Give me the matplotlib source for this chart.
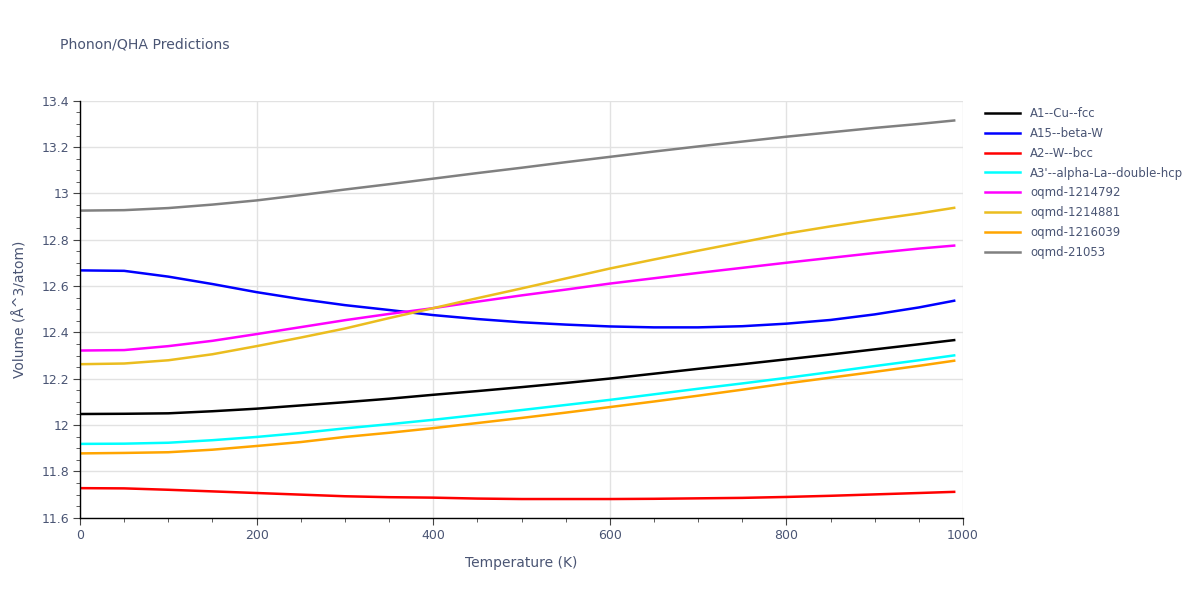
import matplotlib
matplotlib.use("Agg")
import matplotlib.pyplot as plt
from matplotlib.ticker import MultipleLocator, FormatStrFormatter

# temperatures (K) where the curves were read
temps = [0, 50, 100, 150, 200, 250, 300, 350, 400, 450, 500,
         550, 600, 650, 700, 750, 800, 850, 900, 950, 990]

a1_cu_fcc = [12.048, 12.049, 12.051, 12.060, 12.071, 12.085, 12.099, 12.114, 12.131, 12.147, 12.164,
             12.182, 12.201, 12.222, 12.243, 12.263, 12.284, 12.305, 12.327, 12.349, 12.367]
a15_beta_w = [12.668, 12.666, 12.641, 12.609, 12.574, 12.544, 12.518, 12.497, 12.475, 12.458, 12.444,
              12.434, 12.426, 12.422, 12.422, 12.427, 12.438, 12.454, 12.478, 12.508, 12.537]
a2_w_bcc = [11.728, 11.727, 11.721, 11.714, 11.707, 11.700, 11.693, 11.689, 11.687, 11.683, 11.681,
            11.681, 11.681, 11.682, 11.684, 11.686, 11.690, 11.695, 11.701, 11.707, 11.712]
a3_alpha_la = [11.919, 11.920, 11.924, 11.935, 11.949, 11.966, 11.986, 12.004, 12.023, 12.044, 12.065,
               12.087, 12.109, 12.133, 12.157, 12.180, 12.204, 12.229, 12.255, 12.280, 12.301]
oqmd_1214792 = [12.322, 12.324, 12.341, 12.364, 12.393, 12.423, 12.453, 12.480, 12.505, 12.533, 12.560,
                12.585, 12.611, 12.634, 12.657, 12.679, 12.701, 12.722, 12.743, 12.762, 12.775]
oqmd_1214881 = [12.263, 12.266, 12.280, 12.306, 12.341, 12.378, 12.417, 12.462, 12.505, 12.548, 12.590,
                12.633, 12.676, 12.715, 12.753, 12.790, 12.827, 12.858, 12.887, 12.914, 12.938]
oqmd_1216039 = [11.878, 11.880, 11.883, 11.894, 11.910, 11.927, 11.949, 11.967, 11.987, 12.009, 12.031,
                12.054, 12.078, 12.102, 12.127, 12.153, 12.180, 12.205, 12.230, 12.256, 12.278]
oqmd_21053 = [12.926, 12.928, 12.937, 12.952, 12.970, 12.993, 13.017, 13.040, 13.064, 13.088, 13.111,
              13.135, 13.158, 13.181, 13.203, 13.224, 13.245, 13.264, 13.283, 13.300, 13.315]

series = [
    ("A1--Cu--fcc", a1_cu_fcc, "black"),
    ("A15--beta-W", a15_beta_w, "#0000ff"),
    ("A2--W--bcc", a2_w_bcc, "#ff0000"),
    ("A3'--alpha-La--double-hcp", a3_alpha_la, "#00ffff"),
    ("oqmd-1214792", oqmd_1214792, "#ff00ff"),
    ("oqmd-1214881", oqmd_1214881, "#ebbd1f"),
    ("oqmd-1216039", oqmd_1216039, "#ffa500"),
    ("oqmd-21053", oqmd_21053, "#808080"),
]

txt = "#4a5574"

fig = plt.figure(figsize=(12, 6), dpi=100)
ax = fig.add_axes([0.0667, 0.137, 0.7358, 0.695])

for name, vals, col in series:
    ax.plot(temps, vals, color=col, lw=1.8, label=name)

ax.set_xlim(0, 1000)
ax.set_ylim(11.6, 13.4)
ax.xaxis.set_major_locator(MultipleLocator(200))
ax.xaxis.set_minor_locator(MultipleLocator(50))
ax.yaxis.set_major_locator(MultipleLocator(0.2))
ax.yaxis.set_minor_locator(MultipleLocator(0.05))
ax.yaxis.set_major_formatter(FormatStrFormatter("%g"))
ax.xaxis.set_major_formatter(FormatStrFormatter("%g"))

ax.grid(True, which="major", color="#e2e2e2", lw=1)
ax.set_axisbelow(True)
for s in ["top", "right"]:
    ax.spines[s].set_visible(False)
for s in ["left", "bottom"]:
    ax.spines[s].set_color("black")
    ax.spines[s].set_linewidth(1)

ax.tick_params(which="major", direction="out", length=5, color="#444", labelsize=9, labelcolor=txt, pad=3)
ax.tick_params(which="minor", direction="out", length=3, color="#444")

ax.set_xlabel("Temperature (K)", fontsize=10, color=txt, labelpad=10)
ax.set_ylabel("Volume (Å^3/atom)", fontsize=10, color=txt, labelpad=10)

fig.text(0.05, 0.925, "Phonon/QHA Predictions", fontsize=10.1, color=txt, va="center")

ax.legend(loc="upper left", bbox_to_anchor=(1.0155, 1.005), frameon=False,
          fontsize=8.5, handlelength=3.0, handletextpad=0.85, labelspacing=0.58,
          labelcolor=txt, borderaxespad=0.3)

fig.savefig("out.png", dpi=100)
